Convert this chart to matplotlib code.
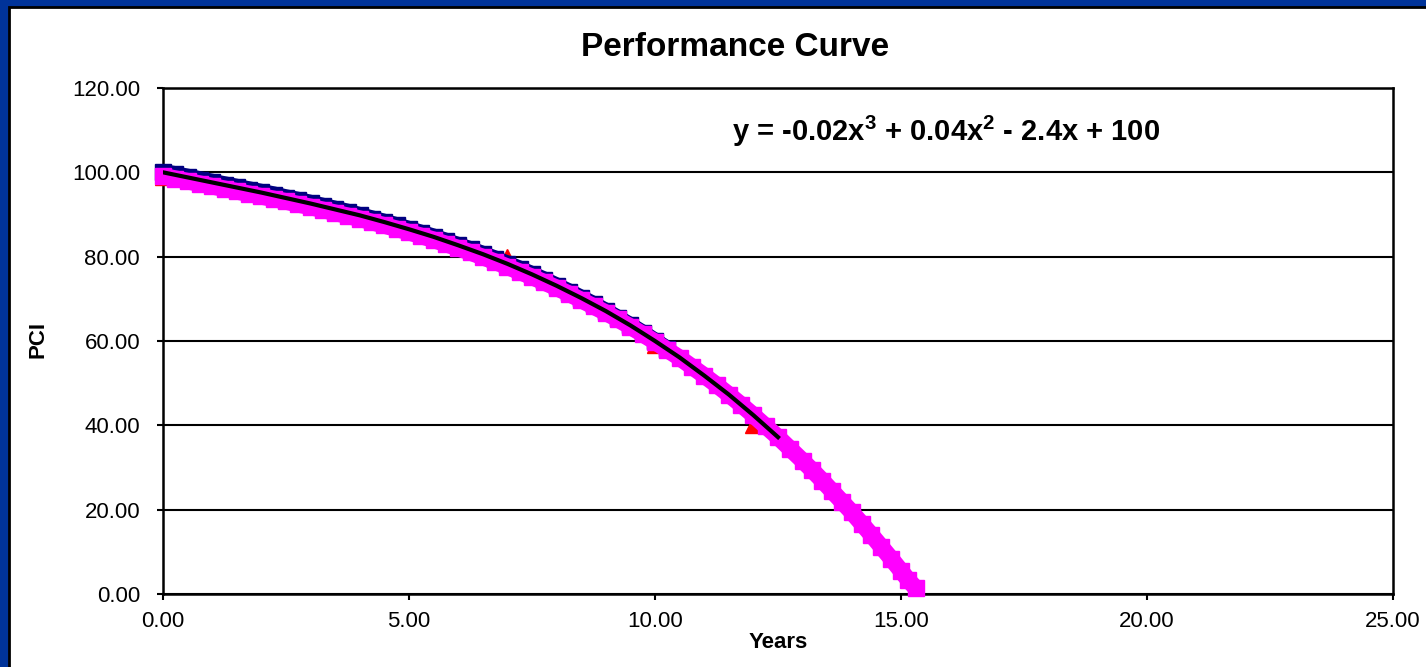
import numpy as np
import matplotlib
matplotlib.use("Agg")
import matplotlib.ticker
from matplotlib import pyplot as plt
from matplotlib.patches import Rectangle

plt.rcParams['font.family'] = ['Liberation Sans', 'DejaVu Sans']
plt.rcParams['mathtext.fontset'] = 'custom'
plt.rcParams['mathtext.rm'] = 'Liberation Sans:bold'
plt.rcParams['mathtext.bf'] = 'Liberation Sans:bold'
plt.rcParams['mathtext.default'] = 'bf'

# magenta band (observed points)
years_obs = [0.0, 0.25, 0.5, 0.75, 1.0, 1.25, 1.5, 1.75, 2.0, 2.25, 2.5, 2.75,
             3.0, 3.25, 3.5, 3.75, 4.0, 4.25, 4.5, 4.75, 5.0, 5.25, 5.5, 5.75,
             6.0, 6.25, 6.5, 6.75, 7.0, 7.25, 7.5, 7.75, 8.0, 8.25, 8.5, 8.75,
             9.0, 9.25, 9.5, 9.75, 10.0, 10.25, 10.5, 10.75, 11.0, 11.25, 11.5,
             11.75, 12.0, 12.25, 12.5, 12.75, 13.0, 13.2, 13.4, 13.6, 13.8, 14.0,
             14.2, 14.4, 14.6, 14.8, 15.0, 15.15, 15.3]
pci_obs = [99.1, 98.5, 97.9, 97.3, 96.7, 96.1, 95.5, 94.9, 94.3, 93.7, 93.1, 92.4,
           91.8, 91.1, 90.4, 89.7, 89.0, 88.2, 87.4, 86.6, 85.8, 84.9, 84.0, 83.0,
           82.0, 81.0, 79.9, 78.8, 77.6, 76.4, 75.2, 73.9, 72.6, 71.2, 69.7, 68.2,
           66.7, 65.1, 63.4, 61.6, 59.8, 57.9, 56.0, 53.9, 51.8, 49.6, 47.3,
           44.9, 42.4, 39.8, 37.2, 34.4, 31.6, 29.3, 26.9, 24.4, 21.9, 19.4,
           16.7, 14.0, 11.2, 8.4, 5.5, 3.3, 1.4]

# navy series, peeking out above the magenta band
years_navy = [0.0, 0.25, 0.5, 0.75, 1.0, 1.25, 1.5, 1.75, 2.0, 2.25, 2.5, 2.75,
              3.0, 3.25, 3.5, 3.75, 4.0, 4.25, 4.5, 4.75, 5.0, 5.25, 5.5, 5.75,
              6.0, 6.25, 6.5, 6.75, 7.0, 7.25, 7.5, 7.75, 8.0, 8.25, 8.5, 8.75,
              9.0, 9.25, 9.5, 9.75, 10.0, 10.25]
pci_navy = [100.0, 99.5, 98.9, 98.3, 97.7, 97.1, 96.5, 95.9, 95.3, 94.7, 94.0, 93.4,
            92.7, 92.0, 91.3, 90.6, 89.8, 89.0, 88.2, 87.4, 86.5, 85.6, 84.7, 83.7,
            82.7, 81.7, 80.6, 79.5, 78.3, 77.1, 75.8, 74.5, 73.1, 71.7, 70.2, 68.7,
            67.1, 65.4, 63.7, 61.9, 60.0, 58.1]

# red triangles
years_tri = [0.0, 7.0, 10.0, 12.0]
pci_tri = [99.0, 80.0, 59.0, 40.0]

# trend line
years_fit = [0.0, 0.5, 1.0, 1.5, 2.0, 2.5, 3.0, 3.5, 4.0, 4.5, 5.0, 5.5, 6.0,
             6.5, 7.0, 7.5, 8.0, 8.5, 9.0, 9.5, 10.0, 10.5, 11.0, 11.5, 12.0, 12.5]
pci_fit = [100.0, 98.8, 97.6, 96.4, 95.2, 93.9, 92.6, 91.2, 89.8, 88.2, 86.5, 84.7,
           82.7, 80.6, 78.3, 75.8, 73.1, 70.2, 67.1, 63.7, 60.0, 56.1, 51.8, 47.3,
           42.4, 37.2]

W, H = 1426, 667
fig = plt.figure(figsize=(W / 100, H / 100), dpi=100, facecolor='#003399')
# white chart area with black frame
fig.patches.append(Rectangle((9 / W, -0.01), 1.0, 1.01 - 7 / H, transform=fig.transFigure,
                             facecolor='white', edgecolor='black', linewidth=2, zorder=0))

ax = fig.add_axes([163 / W, 1 - 594 / H, (1393 - 163) / W, (594 - 88) / H])
ax.set_zorder(2)
ax.set_facecolor('white')
ax.set_xlim(0, 25)
ax.set_ylim(0, 120)
ax.set_xticks(np.arange(0, 26, 5))
ax.set_yticks(np.arange(0, 121, 20))
ax.xaxis.set_major_formatter(matplotlib.ticker.FormatStrFormatter('%.2f'))
ax.yaxis.set_major_formatter(matplotlib.ticker.FormatStrFormatter('%.2f'))
ax.tick_params(direction='out', length=4.5, width=1.5, labelsize=16, colors='black')
ax.tick_params(axis='x', pad=8)
ax.tick_params(axis='y', pad=12)
for s in ax.spines.values():
    s.set_linewidth(1.8)
    s.set_color('black')
ax.grid(axis='y', color='black', linewidth=1.5)
ax.set_axisbelow(True)

# dense markers in the original merge into a solid band: draw a thick line under the squares
band = 12
ax.plot(years_tri, pci_tri, linestyle='None', marker='^', markersize=11,
        color='#ff0000', zorder=3, clip_on=False)
ax.plot(years_navy, pci_navy, linestyle='-', linewidth=band, marker='s', markersize=band - 1,
        color='#000080', zorder=4, clip_on=False, solid_capstyle='butt')
ax.plot(years_obs, pci_obs, linestyle='-', linewidth=band, marker='s', markersize=band - 1,
        color='#ff00ff', zorder=5, clip_on=False, solid_capstyle='butt')
ax.plot(years_fit, pci_fit, color='black', linewidth=3, zorder=6)

fig.text(735 / W, 1 - 48 / H, 'Performance Curve', ha='center', va='center',
         fontsize=24, fontweight='bold')
fig.text(946 / W, 1 - 131 / H, r'y = -0.02x$^{3}$ + 0.04x$^{2}$ - 2.4x + 100',
         ha='center', va='center', fontsize=21, fontweight='bold')
fig.text(778 / W, 1 - 643 / H, 'Years', ha='center', va='center',
         fontsize=16, fontweight='bold')
fig.text(38 / W, 1 - 340 / H, 'PCI', ha='center', va='center', rotation=90,
         fontsize=16, fontweight='bold')

fig.savefig('out.png', dpi=100, facecolor=fig.get_facecolor())
